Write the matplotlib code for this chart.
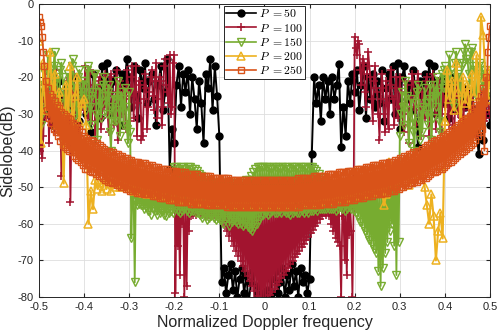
import numpy as np
import matplotlib
matplotlib.use("Agg")
import matplotlib.pyplot as plt

plt.rcParams['font.family'] = ['Liberation Sans', 'DejaVu Sans']
plt.rcParams['mathtext.fontset'] = 'cm'

# normalized Doppler frequency grids
freq = np.round(np.arange(-100, 101) / 200.0, 4)        # step 0.005
freq_fine = np.round(np.arange(-200, 201) / 400.0, 4)   # step 0.0025

# sidelobe levels (dB)
# P = 50 and P = 200 on freq (10 per row), the others on freq_fine (20 per row)
p50 = [
    -27, -32, -24, -30, -22, -28, -33, -25, -29, -21,
    -26, -31, -23, -34, -27, -20, -29, -24, -32, -26,
    -22, -30, -25, -35, -19, -28, -23, -31, -17, -27,
    -16, -24, -30, -21, -18, -27, -33, -19, -22, -15,
    -20, -28, -17, -25, -31, -18, -23, -16, -27, -21,
    -19, -26, -33, -22, -17, -29, -24, -15, -45, -34,
    -38, -22, -17, -28, -19, -24, -18, -30, -20, -26,
    -34, -21, -27, -38, -19, -23, -15, -29, -17, -25,
    -36, -76, -72, -79, -74, -71, -78, -73, -80, -75,
    -72, -79, -74, -82, -76, -73, -81, -77, -84, -79,
    -83, -78, -80, -75, -82, -73, -79, -76, -72, -80,
    -74, -78, -71, -77, -73, -80, -72, -76, -74, -79,
    -75, -41, -20, -27, -22, -32, -20, -26, -21, -30,
    -20, -26, -22, -16.5, -39, -28, -36, -21, -27, -19,
    -24, -18, -29, -22, -17, -31, -20, -26, -19, -28,
    -21, -27, -18, -32, -23, -19, -26, -17, -30, -16,
    -34, -20, -17, -26, -22, -29, -18, -24, -39, -21,
    -25, -19, -28, -16, -23, -17, -30, -21, -26, -20,
    -27, -22, -31, -24, -20, -29, -25, -33, -23, -28,
    -26, -31, -24, -29, -35, -41, -27, -37, -30, -25,
    -33]

p100 = [
    -34, -40, -28, -42, -36, -22, -31, -26, -19, -38, -25, -33, -29, -21, -35, -18, -27, -32, -24, -30,
    -47, -28, -24, -33, -30, -21, -37, -26, -54, -31, -27, -19, -33, -24, -20, -29, -36, -22, -28, -23,
    -29, -17, -22, -25, -31, -18, -26, -32, -22, -19, -38, -27, -26, -21, -20, -34, -31, -24, -28, -19,
    -23, -30, -35, -20, -19, -27, -28, -33, -24, -18, -37, -26, -21, -29, -30, -23, -26, -34, -18, -22,
    -25, -32, -20, -17, -31, -24, -17, -36, -27, -21, -22, -37, -36, -26, -19, -23, -34, -28, -24, -20,
    -18, -25, -29, -21, -16, -31, -26, -20, -21, -33, -28, -17, -15, -22, -24, -27, -14, -30, -28, -16,
    -14, -79, -54, -66, -54, -74, -55, -60, -55, -80, -55, -77, -55, -62, -54, -58, -54, -57.5, -54, -57.5,
    -54, -57, -54, -57.5, -54, -57, -54, -57.5, -54, -57, -54, -57.5, -54, -57, -54, -57.5, -54, -57, -54, -57.5,
    -54, -57.6, -54, -59.2, -54, -60.6, -54, -61.9, -54, -63.3, -54, -64.6, -54, -66, -54, -67.4, -54, -68.7, -54, -70.1,
    -54, -71.5, -54, -72.8, -54, -74.2, -54, -75.6, -54.5, -76.9, -54.5, -78.3, -54.5, -79.6, -54.5, -81, -55, -82.4, -55, -83.7,
    -55, -81.4, -55, -80.5, -55, -79.5, -55, -78.6, -55, -77.7, -55, -76.7, -54.5, -75.8, -54.5, -74.8, -54.5, -73.9, -54.5, -73,
    -54.5, -72, -54.5, -71.1, -54.5, -70.1, -54.5, -69.2, -54.5, -68.3, -54.5, -67.3, -54.5, -66.4, -54.5, -65.4, -54.5, -64.5, -54.5, -63.5,
    -54.5, -62.6, -54.5, -61.7, -54.5, -60.7, -54.5, -59.8, -54.5, -58.8, -54.5, -57.9, -54.5, -57, -54.5, -57.5, -54.5, -58, -55, -60,
    -55, -62, -55, -64, -55, -65, -56, -66, -80, -58, -56, -70, -56, -74, -56, -63, -55, -62, -80, -56,
    -9, -12, -14, -10, -11, -18, -22, -15, -16, -24, -28, -19, -13, -17, -20, -26, -32, -21, -17, -23,
    -24, -30, -37, -26, -19, -23, -30, -35, -21, -27, -34, -22, -18, -25, -26, -33, -23, -20, -31, -28,
    -20, -24, -27, -33, -35, -21, -22, -30, -38, -26, -25, -19, -21, -28, -33, -24, -19, -23, -29, -36,
    -24, -29, -31, -21, -20, -25, -36, -30, -27, -19, -22, -28, -34, -27, -25, -21, -30, -35, -23, -26,
    -28, -24, -21, -30, -33, -25, -26, -34, -37, -29, -24, -21, -30, -27, -22, -31, -35, -28, -27, -24,
    -25, -29, -32, -24, -23, -28, -29, -33, -36, -30, -26, -24, -24, -27, -29, -32, -31, -26, -27, -29,
    -30]

p150 = [
    -28, -31, -33, -24, -18, -22, -25, -29, -14, -19, -22, -27, -30, -17, -13, -21, -20, -25, -27, -18,
    -16, -20, -24, -30, -35, -22, -19, -26, -28, -17, -15, -23, -22, -28, -31, -20, -18, -24, -26, -21,
    -21, -26, -29, -18, -17, -28, -33, -25, -24, -19, -19, -30, -37, -27, -23, -31, -27, -22, -20, -25,
    -30, -24, -22, -35, -40, -28, -25, -32, -32, -26, -21, -29, -36, -24, -26, -33, -23, -28, -34, -38,
    -24, -35, -64, -50, -52, -76, -50, -55, -50, -54.5, -50, -55, -50, -56, -50, -55.5, -50, -56.5, -50, -57.5,
    -50, -56, -50, -56.5, -50, -57.5, -50, -57, -50, -56.5, -50, -57.5, -50, -58, -50, -57, -50, -56.5, -50, -57,
    -44.5, -56, -44.5, -56.5, -45, -57, -44.5, -56.5, -44.5, -56, -45, -56.5, -44.5, -57, -44.5, -56.5, -45, -56.5, -45, -57,
    -45.5, -57, -46.5, -57.5, -47, -58.5, -48, -58, -49, -59, -49, -58.5, -49, -58, -49, -58.5, -49, -59, -49, -58.5,
    -49, -59, -49, -60, -49, -59, -49, -58.5, -49, -60.5, -49, -59.5, -49, -59, -49, -59.5, -49, -60, -49, -60,
    -49, -60.5, -49, -60, -48, -61, -48, -61.5, -47, -62, -46, -61, -45, -60, -44.5, -59, -44.5, -58, -44.5, -57.5,
    -44.5, -57, -44.5, -57.5, -44.5, -57, -45, -56.5, -44.5, -57, -44.5, -57, -44.5, -56.5, -45, -57, -44.5, -56.5, -44.5, -57,
    -44.5, -57, -45, -57.5, -44.5, -57, -44.5, -56.5, -44.5, -57, -45, -57, -44.5, -56.5, -44.5, -57, -44.5, -56.5, -45, -57,
    -44.5, -56.5, -44.5, -56.5, -45, -56, -45.5, -56.5, -46.5, -56, -47.5, -56, -48, -56, -48.5, -56, -49, -56, -49.5, -56,
    -50, -56, -50, -56.5, -50, -56, -50, -55.5, -50, -56, -50, -56.5, -50, -56, -50, -55.5, -50, -56, -50, -56.5,
    -50, -57, -50, -58, -50, -59.5, -50, -60.5, -50, -62, -50, -63, -50, -64.5, -50, -65.5, -50, -67, -50, -68,
    -50, -73, -50, -77, -50, -72, -49.5, -68, -49.5, -65, -49, -62, -49, -60, -48.5, -66, -48, -74, -45, -65,
    -36, -30, -24, -28, -33, -21, -25, -29, -38, -33, -26, -31, -35, -40, -27, -24, -22, -32, -37, -29,
    -35, -28, -23, -27, -30, -33, -26, -22, -37, -31, -22, -25, -28, -20, -24, -32, -35, -19, -23, -18,
    -17, -21, -24, -19, -14, -18, -21, -27, -28, -16, -13, -20, -19, -23, -25, -17, -16, -13, -11, -15,
    -15, -19, -22, -13, -12, -17, -18, -24, -25, -19, -20, -16, -17, -21, -23, -18, -19, -22, -24, -20,
    -21]

p200 = [
    -10, -38, -16, -29, -21, -13, -27, -19, -33, -24,
    -28, -49, -22, -30, -17, -35, -25, -20, -32, -27,
    -26, -33, -60, -51, -56, -48, -50.5, -49, -51, -48,
    -50.5, -48, -51, -48.5, -50, -47, -50, -48, -49.5, -47,
    -50, -48, -51, -49, -51, -49, -51.5, -49, -52, -49.5,
    -52, -49.5, -52, -50, -52.5, -50, -52.5, -50, -53, -50,
    -53, -50.5, -53, -50.5, -53.5, -50.5, -53.5, -51, -53.5, -51,
    -54, -51, -54, -51, -54, -51, -54, -51.5, -54, -51.5,
    -54, -51.5, -54.5, -51.5, -54.5, -51.5, -54.5, -51.5, -54.5, -51.5,
    -54.5, -51.5, -54.5, -51.5, -54.5, -51.5, -54.5, -51.5, -54.5, -51.5,
    -54.5, -51.5, -54.5, -51.5, -54.5, -51.5, -54.5, -51.5, -54.5, -51.5,
    -54.5, -51.5, -54.5, -51.5, -54, -51.5, -54, -51.5, -54, -51,
    -54, -51, -54, -51, -54, -51, -53.5, -51, -53.5, -50.5,
    -53.5, -50.5, -53, -50.5, -53, -50, -53, -50, -52.5, -50,
    -52.5, -50, -52, -49.5, -52, -49.5, -51.5, -49, -51.5, -49,
    -51, -49, -50.5, -55, -52, -43, -47, -49, -48, -45,
    -48, -45.5, -47, -44, -49.5, -45, -47, -44, -46.5, -43,
    -46, -50, -55, -60, -52, -58, -70, -62, -57, -64,
    -32, -18, -26, -21, -29, -16, -24, -33, -20, -27,
    -22, -30, -19, -25, -14, -28, -3.5, -8.5, -20, -26,
    -18]

p250 = [
    -3.5, -5, -6, -9, -13, -17, -21, -29, -23, -31, -24.5, -32.5, -25.5, -34, -26.5, -35, -27.5, -36, -28.5, -37.5,
    -29.5, -38.5, -30, -39, -30.5, -39.5, -31, -40, -31.5, -40.5, -32.5, -41.5, -33, -42, -33.5, -42.5, -34, -43, -35, -44,
    -36, -45, -36.5, -45, -37, -45.5, -37, -46, -37.5, -46, -38, -46.5, -38, -47, -38.5, -47, -39, -47.5, -39.5, -48,
    -40, -48.5, -40, -48.5, -40.5, -49, -40.5, -49, -41, -49.5, -41, -49.5, -41.5, -50, -41.5, -50, -42, -50.5, -42, -50.5,
    -42.5, -51, -42.5, -51, -43, -51, -43, -51.5, -43, -51.5, -43.5, -51.5, -43.5, -52, -43.5, -52, -44, -52, -44, -52,
    -44, -52.5, -44.5, -52.5, -44.5, -52.5, -44.5, -53, -45, -53, -45, -53, -45, -53, -45, -53.5, -45.5, -53.5, -45.5, -53.5,
    -45.5, -53.5, -45.5, -54, -46, -54, -46, -54, -46, -54, -46, -54, -46.5, -54, -46.5, -54.5, -46.5, -54.5, -46.5, -54.5,
    -46.5, -54.5, -47, -54.5, -47, -54.5, -47, -54.5, -47, -55, -47, -55, -47, -55, -47.5, -55, -47.5, -55, -47.5, -55,
    -47.5, -55, -47.5, -55, -47.5, -55, -47.5, -55.5, -47.5, -55.5, -48, -55.5, -48, -55.5, -48, -55.5, -48, -55.5, -48, -55.5,
    -48, -55.5, -48, -55.5, -48, -55.5, -48, -55.5, -48, -55.5, -48, -55.5, -48, -55.5, -48, -55.5, -48, -55.5, -48, -55.5,
    -48, -55.5, -48, -55.5, -48, -55.5, -48, -55.5, -48, -55.5, -48, -55.5, -48, -55.5, -48, -55.5, -48, -55.5, -48, -55.5,
    -48, -55.5, -48, -55.5, -48, -55.5, -48, -55.5, -48, -55.5, -47.5, -55.5, -47.5, -55, -47.5, -55, -47.5, -55, -47.5, -55,
    -47.5, -55, -47.5, -55, -47, -55, -47, -55, -47, -55, -47, -54.5, -47, -54.5, -47, -54.5, -46.5, -54.5, -46.5, -54.5,
    -46.5, -54.5, -46.5, -54, -46.5, -54, -46, -54, -46, -54, -46, -54, -46, -53.5, -45.5, -53.5, -45.5, -53.5, -45.5, -53.5,
    -45.5, -53, -45, -53, -45, -53, -45, -53, -45, -52.5, -44.5, -52.5, -44.5, -52.5, -44.5, -52.5, -44, -52, -44, -52,
    -44, -52, -44, -52, -43.5, -51.5, -43.5, -51.5, -43.5, -51.5, -43, -51, -43, -51, -43, -51, -42.5, -50.5, -42.5, -50.5,
    -42, -50, -42, -50, -41.5, -49.5, -41.5, -49.5, -41, -49, -41, -49, -40.5, -48.5, -40.5, -48.5, -40, -48, -40, -48,
    -39.5, -47.5, -39, -47.5, -38.5, -47, -38.5, -46.5, -38, -46, -37.5, -46, -37, -45.5, -37, -45, -36.5, -45, -36, -44.5,
    -36, -44, -35.5, -43.5, -35, -43, -34.5, -42.5, -34, -42, -33.5, -41.5, -33, -41, -32.5, -40.5, -32, -40, -31.5, -39.5,
    -31, -39, -30.5, -38.5, -29.5, -38, -28.5, -37, -27.5, -36, -26.5, -35, -25, -34, -23, -40, -20, -28, -13, -9,
    -6]

labels = [r'$P\ {=}50$', r'$P\ {=}100$', r'$P\ {=}150$', r'$P\ {=}200$', r'$P\ {=}250$']

fig = plt.figure(figsize=(4.98, 3.33), dpi=100)
ax = fig.add_axes([0.078, 0.108, 0.906, 0.880])

ax.plot(freq, p50, color='k', marker='o', ms=5, lw=1.4, label=labels[0])
ax.plot(freq_fine, p100, color='#A2142F', marker='+', ms=5.5, mew=1.1, lw=1.3, label=labels[1])
ax.plot(freq_fine, p150, color='#77AC30', marker='v', ms=6, mfc='none', mew=1.0, lw=1.3, label=labels[2])
ax.plot(freq, p200, color='#EDB120', marker='^', ms=6, mfc='none', mew=1.1, lw=1.5, label=labels[3])
ax.plot(freq_fine, p250, color='#D95319', marker='s', ms=4.8, mfc='none', mew=1.0, lw=1.3, label=labels[4])

ax.set_xlim(-0.5, 0.5)
ax.set_ylim(-80, 0)
ax.set_xticks(np.round(np.arange(-5, 6) / 10.0, 1))
ax.set_xticklabels(['-0.5', '-0.4', '-0.3', '-0.2', '-0.1', '0', '0.1', '0.2', '0.3', '0.4', '0.5'])
ax.set_yticks(range(-80, 1, 10))
ax.set_yticklabels([str(v) for v in range(-80, 1, 10)])
ax.tick_params(direction='in', labelsize=8, colors='#262626', length=3, top=True, right=True)
ax.grid(True, color='#dedede', lw=0.6)
ax.set_axisbelow(True)
for s in ax.spines.values():
    s.set_color('#262626')
    s.set_linewidth(0.7)

ax.set_xlabel('Normalized Doppler frequency', fontsize=11.5, color='#262626', labelpad=2)
ax.set_ylabel('Sidelobe(dB)', fontsize=11.5, color='#262626', labelpad=2)

leg = ax.legend(loc='upper left', bbox_to_anchor=(0.41, 0.993), borderaxespad=0,
                fontsize=8.5, fancybox=False, framealpha=1, edgecolor='#262626',
                handlelength=2.5, labelspacing=0.18, borderpad=0.2, handletextpad=0.3)
leg.get_frame().set_linewidth(0.7)
for h in leg.get_lines():
    h.set_linewidth(1.2)

fig.savefig('out.png', dpi=100)
